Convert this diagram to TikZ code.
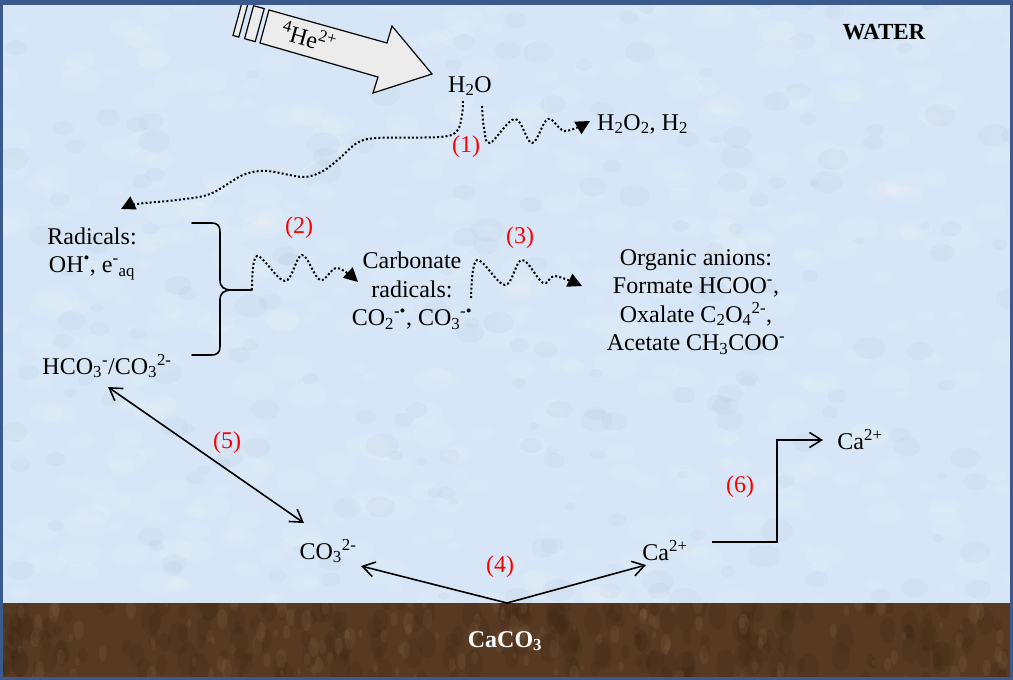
\documentclass[tikz,border=0pt]{standalone}
\usepackage{fontspec}
\setmainfont{Liberation Serif}
\usetikzlibrary{arrows.meta}
\definecolor{waterbg}{RGB}{214,230,246}
\definecolor{soil}{RGB}{88,58,34}
\definecolor{soildark}{RGB}{62,40,22}
\definecolor{soillight}{RGB}{140,108,78}
\definecolor{framec}{RGB}{59,89,140}
\definecolor{hegray}{RGB}{236,236,236}
\definecolor{labred}{RGB}{255,0,0}
\begin{document}
\begin{tikzpicture}[x=1pt,y=-1pt,
  txt/.style={font=\fontsize{24}{28.5}\selectfont, inner sep=1pt, align=center},
  lab/.style={txt, text=labred},
  dotline/.style={line width=2pt, dash pattern=on 2pt off 2.2pt},
  dotarrow/.style={dotline, -{Triangle[length=14pt,width=14pt]}},
  solidarrow/.style={line width=1.6pt, -{Straight Barb[length=12pt,width=15pt]}},
  dblarrow/.style={line width=1.6pt, {Straight Barb[length=12pt,width=15pt]}-{Straight Barb[length=12pt,width=15pt]}},
  hebox/.style={line width=1.2pt, fill=hegray, line join=miter},
]
\useasboundingbox (0,0) rectangle (1013,680);
% water background with light texture
\fill[waterbg] (0,0) rectangle (1013,603);
\begin{scope}
\clip (0,0) rectangle (1013,603);
\pgfmathsetseed{7}
\foreach \i in {1,...,500}{
  \pgfmathsetmacro\xx{rnd*1013}
  \pgfmathsetmacro\yy{rnd*603}
  \pgfmathsetmacro\rr{6+rnd*16}
  \fill[white, opacity=0.09] (\xx,\yy) ellipse[x radius=\rr pt, y radius=0.6*\rr pt];
}
\foreach \i in {1,...,200}{
  \pgfmathsetmacro\xx{rnd*1013}
  \pgfmathsetmacro\yy{rnd*603}
  \pgfmathsetmacro\rr{5+rnd*12}
  \fill[framec, opacity=0.035] (\xx,\yy) ellipse[x radius=\rr pt, y radius=0.7*\rr pt];
}
\end{scope}
% soil
\fill[soil] (0,603) rectangle (1013,680);
\begin{scope}
\clip (0,603) rectangle (1013,680);
\pgfmathsetseed{11}
\foreach \i in {1,...,220}{
  \pgfmathsetmacro\xx{rnd*1013}
  \pgfmathsetmacro\yy{603+rnd*77}
  \pgfmathsetmacro\rr{5+rnd*12}
  \fill[soildark, opacity=0.25] (\xx,\yy) ellipse[x radius=0.6*\rr pt, y radius=\rr pt];
}
\foreach \i in {1,...,140}{
  \pgfmathsetmacro\xx{rnd*1013}
  \pgfmathsetmacro\yy{603+rnd*77}
  \pgfmathsetmacro\rr{3+rnd*8}
  \fill[soillight, opacity=0.18] (\xx,\yy) ellipse[x radius=0.5*\rr pt, y radius=\rr pt];
}
\end{scope}

% helium projectile arrow
\draw[hebox] (247.8,4.1) -- (238.8,37.1) -- (233,35.4) -- (242,2.4) -- cycle;
\draw[hebox] (264.2,8.6) -- (255.2,41.6) -- (244.6,38.7) -- (253.6,5.7) -- cycle;
\draw[hebox] (269,10) -- (387,43) -- (392,26) -- (432,74) -- (373,93) -- (378,77) -- (260,43) -- cycle;
\node[txt, rotate=-15.6] (he) at (309,37) {\textsuperscript{4}He\textsuperscript{2+}};

% frame
\fill[framec] (0,0) rectangle (1013,5);
\fill[framec] (0,0) rectangle (3,680);
\fill[framec] (1010,0) rectangle (1013,680);
\fill[framec] (0,677) rectangle (1013,680);

% texts
\node[txt, font=\fontsize{23}{28}\selectfont\bfseries] (water) at (884,32) {WATER};
\node[txt] (h2o) at (470,86) {H\textsubscript{2}O};
\node[txt, anchor=west] (h2o2) at (596,124) {H\textsubscript{2}O\textsubscript{2}, H\textsubscript{2}};
\node[lab] (l1) at (466,147) {(1)};
\node[txt] (rad) at (92,254) {Radicals:\\OH\textsuperscript{•}, e\textsuperscript{-}\textsubscript{aq}};
\node[txt] (hco3) at (107,366) {HCO\textsubscript{3}\textsuperscript{-}/CO\textsubscript{3}\textsuperscript{2-}};
\node[lab] (l2) at (299,228) {(2)};
\node[txt] (carb) at (412,291) {Carbonate\\radicals:\\CO\textsubscript{2}\textsuperscript{-•}, CO\textsubscript{3}\textsuperscript{-•}};
\node[lab] (l3) at (520,238) {(3)};
\node[txt] (org) at (696,302) {Organic anions:\\Formate HCOO\textsuperscript{-},\\Oxalate C\textsubscript{2}O\textsubscript{4}\textsuperscript{2-},\\Acetate CH\textsubscript{3}COO\textsuperscript{-}};
\node[lab] (l5) at (227,443) {(5)};
\node[txt] (co3) at (328,551) {CO\textsubscript{3}\textsuperscript{2-}};
\node[txt] (ca1) at (665,551) {Ca\textsuperscript{2+}};
\node[lab] (l4) at (500,567) {(4)};
\node[lab] (l6) at (740,487) {(6)};
\node[txt] (ca2) at (860,440) {Ca\textsuperscript{2+}};
\node[txt, text=white, font=\fontsize{24}{28}\selectfont\bfseries] (caco3) at (505,641) {CaCO\textsubscript{3}};

% connector coordinates
\coordinate (s1a) at (463,101);
\coordinate (e1a) at (121,209);
\coordinate (s1b) at (482,106);
\coordinate (e1b) at (590,121);
\coordinate (btip) at (252,290);
\coordinate (e2) at (358,282);
\coordinate (s3) at (471,298);
\coordinate (e3) at (582,286);
\coordinate (s4) at (507,603);
\coordinate (e4a) at (361,566);
\coordinate (e4b) at (646,565);
\coordinate (s5) at (108,387);
\coordinate (e5) at (304,523);
\coordinate (s6) at (712,542);
\coordinate (e6) at (823,440);

% (1) H2O -> radicals
\draw[dotarrow] plot[smooth, tension=0.55] coordinates {(s1a) (462,115) (457,131) (440,137) (377,138) (357,143) (340,158) (323,171) (303,177) (267,171) (243,175) (210,194) (177,200) (137,204) (e1a)};
% (1) H2O -> H2O2, H2
\draw[dotarrow] plot[smooth, tension=0.6] coordinates {(s1b) (484,128) (490,143) (515,119) (532,143) (548,119) (565,131) (e1b)};
% brace
\draw[line width=1.6pt, line cap=round] (192,223) -- (211,223) .. controls (218,223) and (220,226) .. (220,232) -- (220,280) .. controls (220,287) and (224,290) .. (232,290) -- (btip)
  (232,290) .. controls (224,290) and (220,293) .. (220,300) -- (220,346) .. controls (220,352) and (218,355) .. (211,355) -- (192,355);
% (2)
\draw[dotarrow] plot[smooth, tension=0.6] coordinates {(btip) (257,256) (285,281) (302,255) (320,280) (337,268) (e2)};
% (3)
\draw[dotarrow] plot[smooth, tension=0.6] coordinates {(s3) (477,260) (505,285) (522,260) (543,283) (555,276) (e3)};
% (4)
\draw[solidarrow] (s4) -- (e4a);
\draw[solidarrow] (s4) -- (e4b);
% (5)
\draw[dblarrow] (s5) -- (e5);
% (6)
\draw[solidarrow] (s6) -- (777,542) -- (777,440) -- (e6);
\end{tikzpicture}
\end{document}
